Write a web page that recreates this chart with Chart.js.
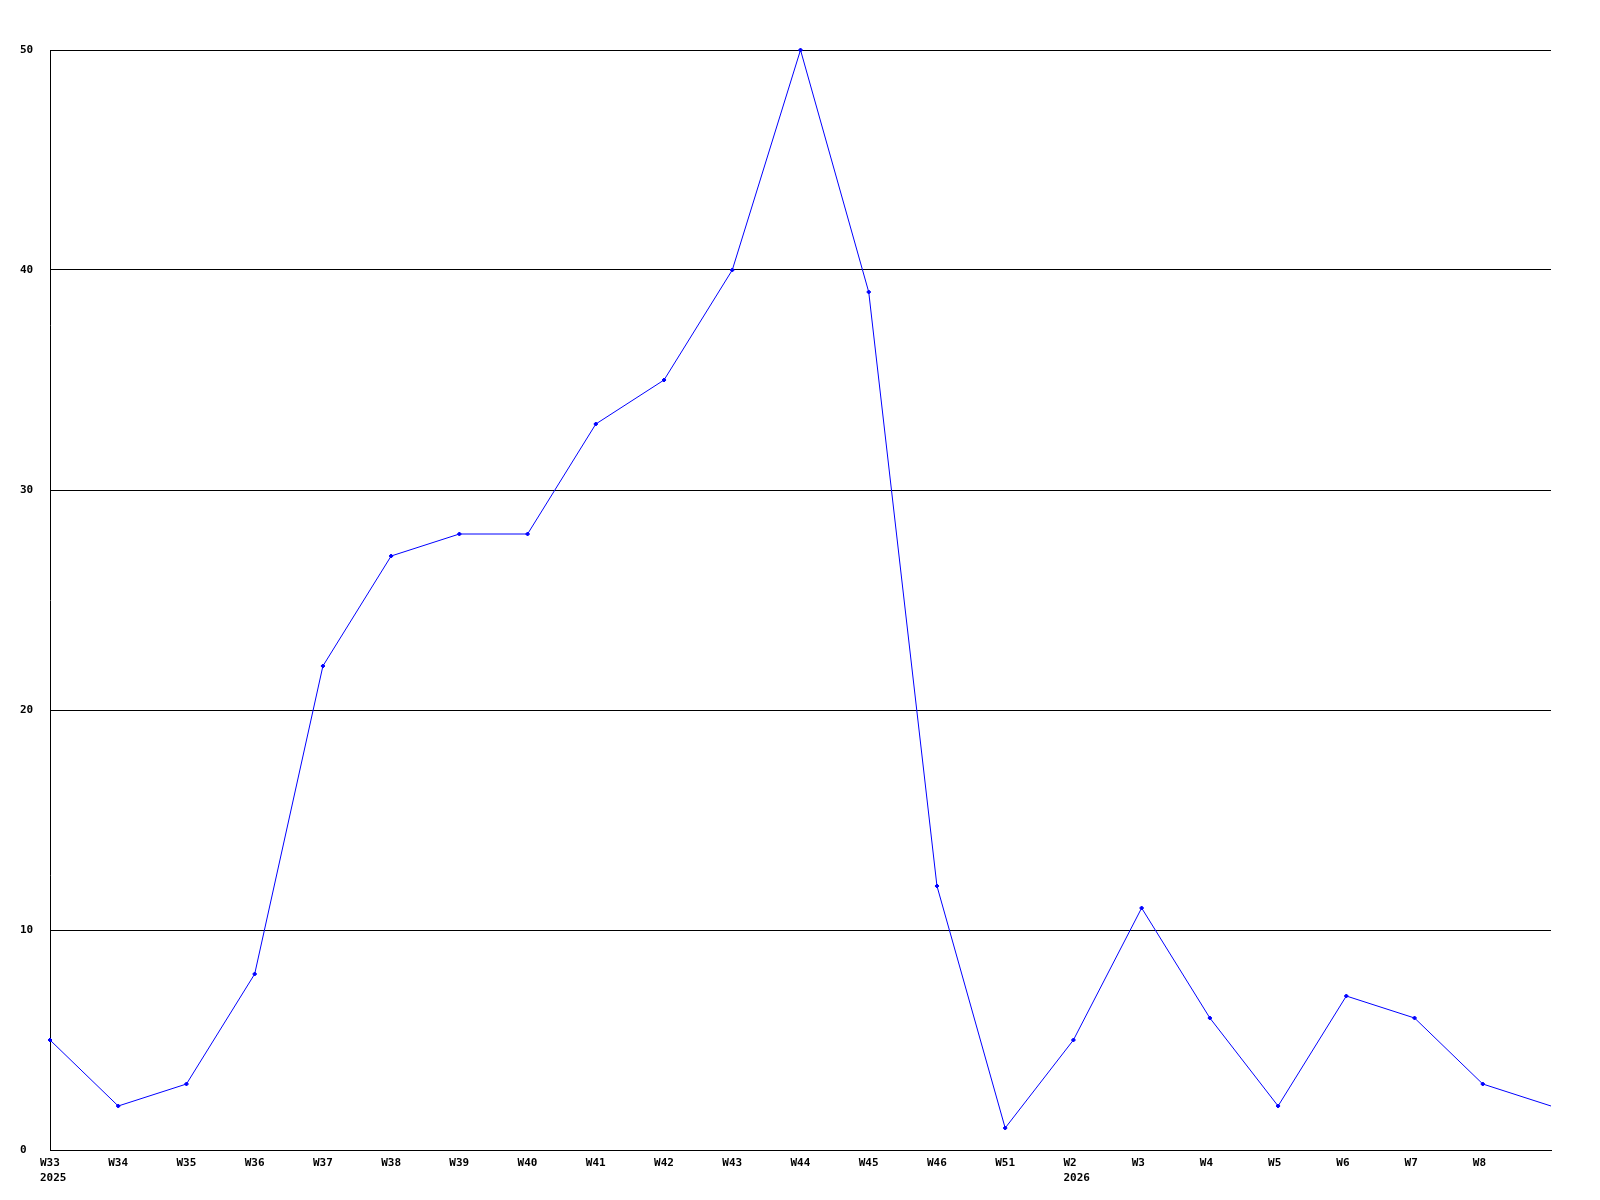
<!DOCTYPE html>
<html>
<head>
<meta charset="utf-8">
<script src="https://cdn.jsdelivr.net/npm/chart.js@4/dist/chart.umd.min.js"></script>
<style>
    html, body { margin: 0; padding: 0; background: #fff; }
    .chart-container { width: 1600px; height: 1200px; position: relative; }
</style>
</head>
<body>
<div class="chart-container"><canvas id="weekly"></canvas></div>
<script>
// weeks shown on the x axis; the last point has no label in the original
const weeks = ['W33', 'W34', 'W35', 'W36', 'W37', 'W38', 'W39', 'W40', 'W41', 'W42', 'W43',
    'W44', 'W45', 'W46', 'W51', 'W2', 'W3', 'W4', 'W5', 'W6', 'W7', 'W8', ''];
// year printed under the first week of each year
const years = { 'W33': '2025', 'W2': '2026' };
const counts = [5, 2, 3, 8, 22, 27, 28, 28, 33, 35, 40, 50, 39, 12, 1, 5, 11, 6, 2, 7, 6, 3, 2];
const yTicks = [0, 10, 20, 30, 40, 50];

const labels = weeks.map(w => years[w] ? [w, years[w]] : w);
const font = { family: '"DejaVu Sans Mono", monospace', size: 11, weight: 'bold', lineHeight: '15px' };
const last = counts.length - 1;

new Chart(document.getElementById('weekly').getContext('2d'), {
    type: 'line',
    data: {
        labels: labels,
        datasets: [{
            data: counts,
            borderColor: '#0000ff',
            backgroundColor: '#0000ff',
            borderWidth: 1,
            tension: 0,
            fill: false,
            pointStyle: 'rectRot',
            // no marker on the trailing point
            pointRadius: c => c.dataIndex === last ? 0 : 2,
            pointBorderWidth: 1,
            clip: false,
        }],
    },
    options: {
        responsive: true,
        maintainAspectRatio: false,
        animation: false,
        layout: { padding: { left: 20, right: 49, top: 50, bottom: 0 } },
        plugins: { legend: { display: false }, tooltip: { enabled: false } },
        scales: {
            x: {
                offset: false,
                grid: { display: false, drawTicks: false },
                border: { display: true, color: '#000', width: 1 },
                ticks: {
                    color: '#000',
                    font: font,
                    padding: 6,
                    align: 'start',
                    labelOffset: -10,
                    maxRotation: 0,
                    autoSkip: false,
                },
                afterFit: s => { s.height = 50; },
            },
            y: {
                min: 0,
                max: 50,
                afterBuildTicks: s => { s.ticks = yTicks.map(v => ({ value: v })); },
                grid: { color: '#000', lineWidth: 1, drawTicks: false },
                border: { display: true, color: '#000', width: 1 },
                ticks: {
                    color: '#000',
                    font: font,
                    crossAlign: 'far',
                    padding: 0,
                },
                afterFit: s => { s.width = 30; },
            },
        },
    },
});
</script>
</body>
</html>
